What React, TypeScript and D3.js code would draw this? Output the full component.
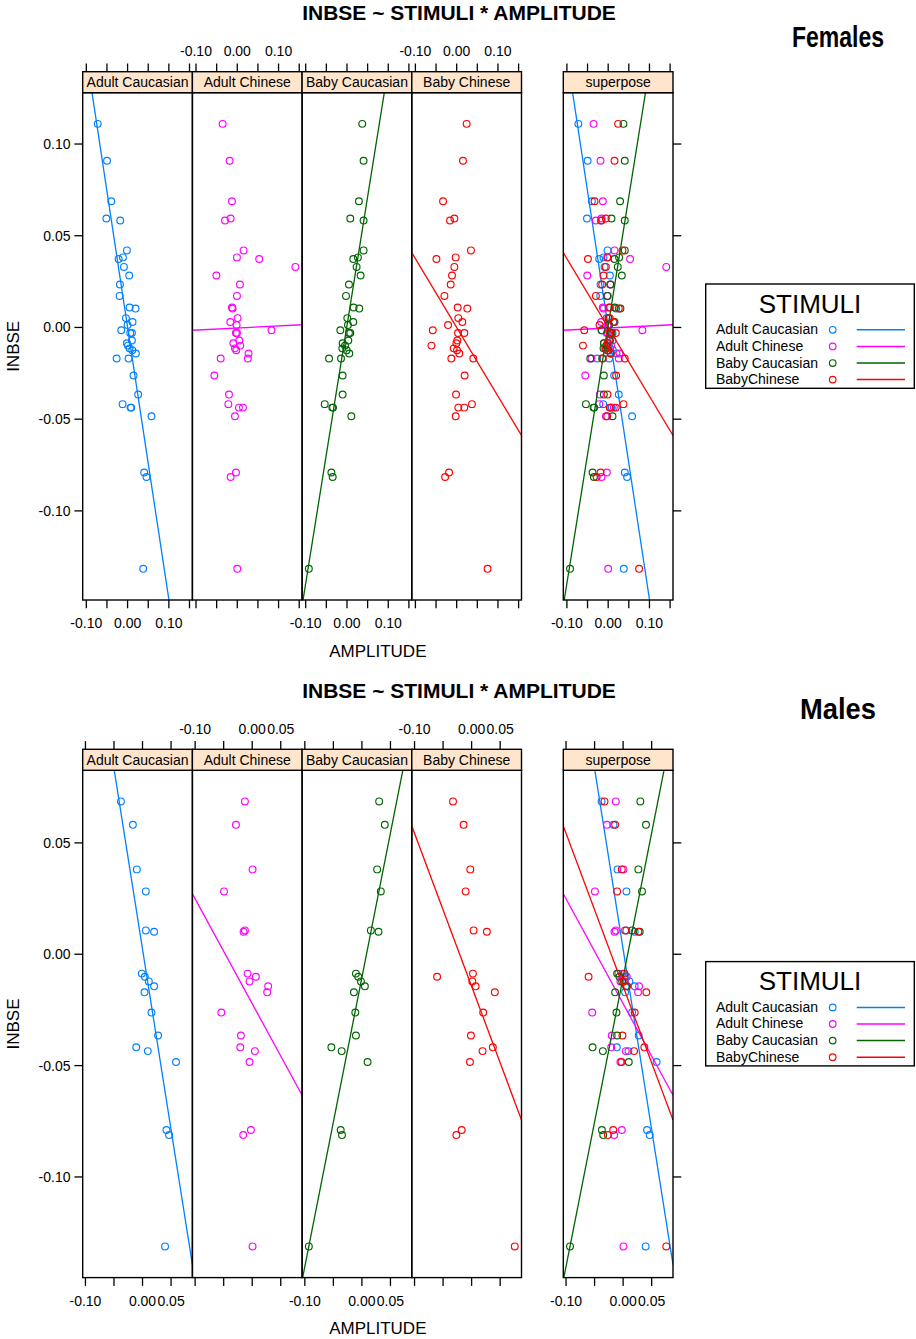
import React, { useEffect } from "react";
import * as d3 from "d3";

// stimuli and their lattice superpose colours
const stimuli = ["Adult Caucasian", "Adult Chinese", "Baby Caucasian", "Baby Chinese"];
const legendLabels = ["Adult Caucasian", "Adult Chinese", "Baby Caucasian", "BabyChinese"];
const colors = ["#0080ff", "#ff00ff", "#006400", "#ff0000"];

// Females: INBSE per subject, AMPLITUDE per subject and stimulus
const femaleInbse = [0.111, 0.0909, 0.0688, 0.0594, 0.0583, 0.042, 0.0382, 0.0373, 0.033, 0.0283, 0.0234, 0.0172, 0.0109, 0.0103, 0.0051, 0.003, 0.0013, -0.0015, -0.003, -0.003, -0.0071, -0.0086, -0.0099, -0.0114, -0.0124, -0.0142, -0.0169, -0.0169, -0.0262, -0.0366, -0.0418, -0.0437, -0.0437, -0.0484, -0.0791, -0.0815, -0.1316];
const femaleAdultCaucasian = [-0.0723, -0.0498, -0.0394, -0.0514, -0.0177, -0.0016, -0.0113, -0.0217, -0.0088, 0.004, -0.0185, -0.0193, 0.0048, 0.0193, -0.004, 0.012, 0.0, -0.0153, 0.0064, 0.0105, 0.0105, -0.0016, 0.0008, 0.0048, 0.0113, 0.0201, -0.0265, 0.0024, 0.0145, 0.0257, -0.0121, 0.0072, 0.0088, 0.0579, 0.0402, 0.0458, 0.0378];
const femaleAdultChinese = [-0.0354, -0.0185, -0.0129, -0.0161, -0.0297, 0.0153, -0.0008, 0.0531, 0.1407, -0.0506, 0.0064, -0.0008, -0.0129, -0.0113, 0.0008, -0.0169, -0.0016, 0.0828, -0.0032, -0.0008, 0.0048, -0.0096, 0.0072, -0.0056, -0.0024, 0.0273, -0.0402, 0.0257, -0.0555, -0.0201, -0.0217, 0.004, 0.0137, -0.0056, -0.0032, -0.0161, 0.0];
const femaleBabyCaucasian = [0.037, 0.0402, 0.0289, 0.008, 0.0402, 0.0402, 0.0265, 0.0153, 0.0233, 0.033, 0.0048, -0.0024, 0.0161, 0.0297, 0.0008, 0.0153, 0.0024, -0.0161, 0.0048, 0.008, 0.0032, -0.0105, -0.0048, -0.0113, -0.0008, 0.0056, -0.0434, -0.0145, -0.0105, -0.0105, -0.0539, -0.0354, -0.0338, 0.0105, -0.0378, -0.0346, -0.0924];
const femaleBabyChinese = [0.0241, 0.0153, -0.033, -0.0056, -0.0161, 0.0346, -0.0024, -0.049, -0.0056, -0.0113, -0.0145, -0.0297, 0.0024, 0.0257, 0.004, 0.0137, -0.0209, -0.0579, 0.0032, 0.0185, 0.0016, -0.0008, -0.0611, -0.0072, 0.0008, 0.0064, -0.0129, 0.0402, 0.0193, -0.0016, 0.037, 0.004, 0.0185, -0.0024, -0.0185, -0.0281, 0.0748];
const femaleSlopes = [-1.484, 0.0113, 1.405, -0.375];
const femaleIntercepts = [0.0001, -0.0003, 0.001, 0.0];

// Males
const maleInbse = [0.0686, 0.0581, 0.0381, 0.0282, 0.0107, 0.0101, -0.0087, -0.0101, -0.0122, -0.0144, -0.0171, -0.0262, -0.0365, -0.0418, -0.0435, -0.0484, -0.0789, -0.0812, -0.1312];
const maleAdultCaucasian = [-0.0378, -0.0169, -0.0099, 0.0058, 0.0058, 0.0203, -0.0012, 0.0041, 0.011, 0.0203, 0.0035, 0.0157, 0.0273, -0.011, 0.0093, 0.0587, 0.0419, 0.0465, 0.0395];
const maleAdultChinese = [-0.0128, -0.0285, 0.0006, -0.0494, -0.0128, -0.0151, -0.0081, 0.0064, -0.0047, 0.0279, 0.0262, -0.0541, -0.0198, -0.0209, 0.0047, -0.0047, -0.0023, -0.0157, 0.0006];
const maleBabyCaucasian = [0.0302, 0.0401, 0.0267, 0.0331, 0.0157, 0.0291, -0.0105, -0.0064, -0.0017, 0.0052, -0.014, -0.0116, -0.0105, -0.0535, -0.0355, 0.0099, -0.0372, -0.0349, -0.093];
const maleBabyChinese = [-0.0326, -0.014, -0.0023, -0.0105, 0.0035, 0.0267, 0.0023, -0.0605, 0.0012, 0.007, 0.0407, 0.0203, -0.0012, 0.0372, 0.0192, -0.0029, -0.0174, -0.0267, 0.0756];
const maleSlopes = [-1.621, -0.4707, 1.298, -0.687];
const maleIntercepts = [0.0023, -0.0222, -0.0104, -0.0144];

// ticks
const femaleXTicks = [-0.1, -0.05, 0, 0.05, 0.1, 0.15];
const femaleXLabels = [-0.1, 0, 0.1];
const femaleYTicks = [-0.1, -0.05, 0, 0.05, 0.1];
const maleXTicks = [-0.1, -0.05, 0, 0.05];
const maleXLabels = [-0.1, 0, 0.05];
const maleYTicks = [-0.1, -0.05, 0, 0.05];

const FONT = "'Liberation Sans', Arial, Helvetica, sans-serif";
const PW = 109.7;
const X0 = 82.7;
const SUPER_LEFT = 563.3;
const STRIP_TOP = 71.7;
const PANEL_TOP = 92.7;
const PANEL_BOTTOM = 600;

const fmt = (v: number) => (Math.abs(v) < 1e-9 ? 0 : v).toFixed(2);

// lattice style axis limits: data range extended by 7% on each side
const padded = (vals: number[]) => {
  const [lo, hi] = d3.extent(vals) as [number, number];
  const p = (hi - lo) * 0.07;
  return [lo - p, hi + p];
};

const Chart = ({ top, sex, sideY, sideWidth, inbse, amps, slopes, intercepts, xTicks, xLabels, yTicks }: any) => {
  const xLim = padded(amps.flat());
  const yLim = padded(inbse);
  const y = d3.scaleLinear().domain(yLim).range([PANEL_BOTTOM, PANEL_TOP]);

  const panels = [0, 1, 2, 3, 4].map((i) => {
    const left = i < 4 ? X0 + i * PW : SUPER_LEFT;
    const x = d3.scaleLinear().domain(xLim).range([left, left + PW]);
    const groups = i < 4 ? [i] : [0, 1, 2, 3];
    const labelTop = i === 1 || i === 3;
    const clipId = `clip-${sex}-${i}`;
    return (
      <g key={i}>
        <clipPath id={clipId}>
          <rect x={left} y={PANEL_TOP} width={PW} height={PANEL_BOTTOM - PANEL_TOP} />
        </clipPath>
        <g clipPath={`url(#${clipId})`}>
          {groups.map((g) => (
            <g key={g}>
              {amps[g].map((a: number, k: number) => (
                <circle key={k} cx={x(a)} cy={y(inbse[k])} r={3.4} fill="none" stroke={colors[g]} strokeWidth={1.15} />
              ))}
              <path
                d={
                  d3
                    .line<number>()
                    .x((d) => x(d))
                    .y((d) => y(intercepts[g] + slopes[g] * d))(xLim) || ""
                }
                fill="none"
                stroke={colors[g]}
                strokeWidth={1.3}
              />
            </g>
          ))}
        </g>
        <rect x={left} y={PANEL_TOP} width={PW} height={PANEL_BOTTOM - PANEL_TOP} fill="none" stroke="#000" strokeWidth={1.4} />
        <rect x={left} y={STRIP_TOP} width={PW} height={PANEL_TOP - STRIP_TOP} fill="#ffe5cc" stroke="#000" strokeWidth={1.4} />
        <text x={left + PW / 2} y={87.3} textAnchor="middle" fontSize={14} fontFamily={FONT}>
          {i < 4 ? stimuli[i] : "superpose"}
        </text>
        {xTicks.map((t: number) => (
          <g key={t}>
            <line x1={x(t)} x2={x(t)} y1={63.5} y2={STRIP_TOP} stroke="#000" strokeWidth={1.3} />
            <line x1={x(t)} x2={x(t)} y1={PANEL_BOTTOM} y2={608.3} stroke="#000" strokeWidth={1.3} />
          </g>
        ))}
        {xLabels.map((t: number) => (
          <text key={t} x={x(t)} y={labelTop ? 56 : 628} textAnchor="middle" fontSize={14} fontFamily={FONT}>
            {fmt(t)}
          </text>
        ))}
        {i === 4 &&
          yTicks.map((t: number) => (
            <line key={t} x1={left + PW} x2={left + PW + 8.3} y1={y(t)} y2={y(t)} stroke="#000" strokeWidth={1.3} />
          ))}
      </g>
    );
  });

  const legendTop = 284;
  return (
    <g transform={`translate(0,${top})`}>
      <text x={459} y={20} textAnchor="middle" fontSize={21} fontWeight="bold" fontFamily={FONT}>
        INBSE ~ STIMULI * AMPLITUDE
      </text>
      <text
        x={838}
        y={sideY}
        textAnchor="middle"
        fontSize={30}
        fontWeight="bold"
        fontFamily={FONT}
        textLength={sideWidth}
        lengthAdjust="spacingAndGlyphs"
      >
        {sex}
      </text>
      {panels}
      {yTicks.map((t: number) => (
        <g key={t}>
          <line x1={74.4} x2={X0} y1={y(t)} y2={y(t)} stroke="#000" strokeWidth={1.3} />
          <text x={70.5} y={y(t)} dy="0.36em" textAnchor="end" fontSize={14} fontFamily={FONT}>
            {fmt(t)}
          </text>
        </g>
      ))}
      <text
        transform={`translate(19,${(PANEL_TOP + PANEL_BOTTOM) / 2}) rotate(-90)`}
        textAnchor="middle"
        fontSize={17}
        fontFamily={FONT}
      >
        INBSE
      </text>
      <text x={(X0 + SUPER_LEFT + PW) / 2} y={656.5} textAnchor="middle" fontSize={17} fontFamily={FONT}>
        AMPLITUDE
      </text>
      <g>
        <rect x={705.7} y={legendTop} width={208.6} height={104.3} fill="#fff" stroke="#000" strokeWidth={1.4} />
        <text x={810} y={legendTop + 28.7} textAnchor="middle" fontSize={26} fontFamily={FONT}>
          STIMULI
        </text>
        {legendLabels.map((lab, k) => {
          const by = legendTop + 50.3 + k * 16.6;
          return (
            <g key={lab}>
              <text x={716} y={by} fontSize={14} fontFamily={FONT}>
                {lab}
              </text>
              <circle cx={832.7} cy={by - 4.5} r={3.3} fill="none" stroke={colors[k]} strokeWidth={1.15} />
              <line x1={856.7} x2={905} y1={by - 4.5} y2={by - 4.5} stroke={colors[k]} strokeWidth={1.5} />
            </g>
          );
        })}
      </g>
    </g>
  );
};

const App = () => {
  useEffect(() => {
    document.body.style.margin = "0";
  }, []);

  return (
    <svg width={916} height={1339} style={{ position: "absolute", left: 0, top: 0, background: "#fff" }}>
      <rect width={916} height={1339} fill="#fff" />
      <Chart
        top={0}
        sex="Females"
        sideY={46.5}
        sideWidth={92}
        inbse={femaleInbse}
        amps={[femaleAdultCaucasian, femaleAdultChinese, femaleBabyCaucasian, femaleBabyChinese]}
        slopes={femaleSlopes}
        intercepts={femaleIntercepts}
        xTicks={femaleXTicks}
        xLabels={femaleXLabels}
        yTicks={femaleYTicks}
      />
      <Chart
        top={677.6}
        sex="Males"
        sideY={41}
        sideWidth={76}
        inbse={maleInbse}
        amps={[maleAdultCaucasian, maleAdultChinese, maleBabyCaucasian, maleBabyChinese]}
        slopes={maleSlopes}
        intercepts={maleIntercepts}
        xTicks={maleXTicks}
        xLabels={maleXLabels}
        yTicks={maleYTicks}
      />
    </svg>
  );
};

export default App;
